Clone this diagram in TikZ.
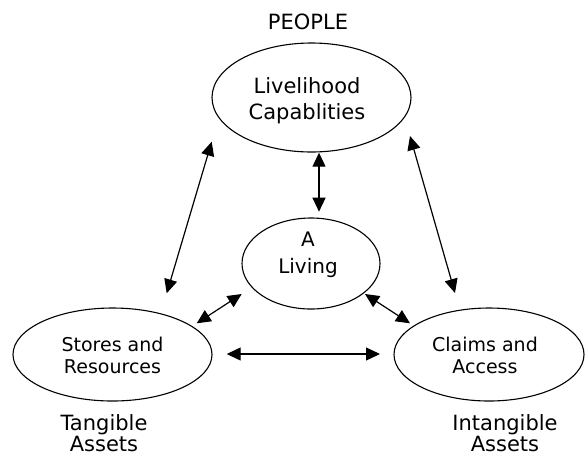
\documentclass[tikz,border=0pt]{standalone}
\usepackage{fontspec}
\setmainfont{DejaVu Sans}
\usetikzlibrary{shapes.geometric,arrows.meta}
\begin{document}
\begin{tikzpicture}[x=1pt,y=-1pt,
  oval/.style={draw,line width=1.1pt,ellipse,inner sep=0pt},
  txt/.style={align=center,anchor=base,inner sep=0pt},
  big/.style={font=\fontsize{21}{26}\selectfont},
  mid/.style={font=\fontsize{19}{22.3}\selectfont},
  lab/.style={font=\fontsize{21}{21}\selectfont},
  dbl/.style={line width=1.2pt,{Triangle[length=14pt,width=13pt]}-{Triangle[length=14pt,width=13pt]}}]
\useasboundingbox (0,0) rectangle (585,456);

\node[oval,minimum width=199pt,minimum height=109pt] (cap) at (311.5,97.5) {};
\node[oval,minimum width=138pt,minimum height=91pt] (liv) at (311,263.5) {};
\node[oval,minimum width=199pt,minimum height=93pt] (sto) at (112.5,354.5) {};
\node[oval,minimum width=190pt,minimum height=93pt] (cla) at (489,354.5) {};

\node[txt,big] (people) at (308,29.3) {PEOPLE};
\node[txt,big] (captxt) at (307,119) {Livelihood\\Capablities};
\node[txt,font=\fontsize{20}{26.6}\selectfont] (livtxt) at (308,273.3) {A\\Living};
\node[txt,mid] (stotxt) at (112.5,373.3) {Stores and\\Resources};
\node[txt,mid] (clatxt) at (485,373.3) {Claims and\\Access};
\node[txt,lab] (tang) at (104,451.7) {Tangible\\Assets};
\node[txt,lab] (intang) at (505,451.7) {Intangible\\Assets};

\coordinate (la1) at (211.7,141.7);
\coordinate (la2) at (166.7,293.3);
\coordinate (ra1) at (410,136);
\coordinate (ra2) at (455,293);
\coordinate (v1) at (319,152.7);
\coordinate (v2) at (319,211.7);
\coordinate (cl1) at (241.7,294);
\coordinate (cl2) at (196.7,323.3);
\coordinate (cr1) at (365,294);
\coordinate (cr2) at (410,323.3);
\coordinate (h1) at (226.7,354);
\coordinate (h2) at (380,354);

\draw[dbl] (la1) -- (la2);
\draw[dbl] (ra1) -- (ra2);
\draw[dbl] (v1) -- (v2);
\draw[dbl] (cl1) -- (cl2);
\draw[dbl] (cr1) -- (cr2);
\draw[dbl] (h1) -- (h2);
\end{tikzpicture}
\end{document}
